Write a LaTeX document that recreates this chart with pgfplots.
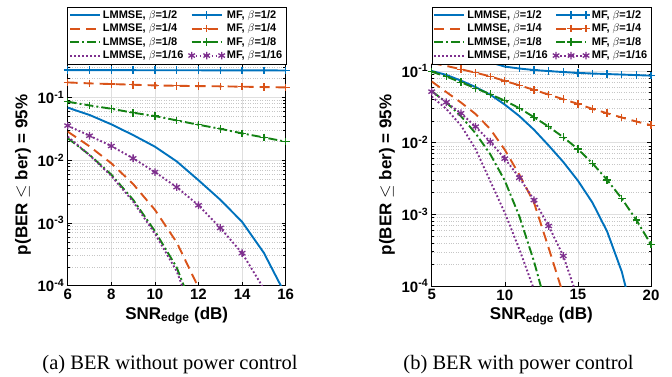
\documentclass[border=0pt]{standalone}
\usepackage{pgfplots}
\pgfplotsset{compat=1.18}
\usepackage{fontspec}
\setmainfont{Liberation Sans}
\newfontfamily\capfont{Liberation Serif}
\definecolor{mblue}{RGB}{0,114,189}
\definecolor{morange}{RGB}{217,83,25}
\definecolor{mgreen}{RGB}{20,130,20}
\definecolor{mpurple}{RGB}{126,47,142}
\tikzset{
  lmA/.style={mblue, line width=1.9pt, solid},
  lmB/.style={morange, line width=1.9pt, dash pattern=on 10pt off 6pt},
  lmC/.style={mgreen, line width=1.9pt, dash pattern=on 9pt off 3pt on 2pt off 3pt},
  lmD/.style={mpurple, line width=1.9pt, dash pattern=on 1.8pt off 2.2pt},
  mfA/.style={lmA, mark=+, mark size=3.8pt, mark options={solid, line width=1.3pt}},
  mfB/.style={lmB, mark=+, mark size=3.8pt, mark options={solid, line width=1.3pt}},
  mfC/.style={lmC, mark=+, mark size=3.8pt, mark options={solid, line width=1.3pt}},
  mfD/.style={lmD, mark=asterisk, mark size=3.8pt, mark options={solid, line width=1.3pt}},
}
\begin{document}
\begin{tikzpicture}
\useasboundingbox (0,0) rectangle (672pt,377pt);
\begin{axis}[at={(67.7pt,91.3pt)}, anchor=south west, width=218pt, height=221.7pt,
  xmin=6, xmax=16, ymax=0.34, xtick={6,8,10,12,14,16},
    scale only axis, ymode=log, ymin=1e-4,
    axis line style={line width=0.7pt},
    tick style={black, line width=0.6pt},
    major tick length=4pt, minor tick length=2.5pt,
    xmajorgrids, ymajorgrids, yminorgrids,
    major grid style={gray!25, line width=0.6pt},
    minor grid style={gray!45, dotted, line width=0.5pt},
    tick label style={font=\bfseries\fontsize{15}{15}\selectfont},
    label style={font=\bfseries\fontsize{17}{17}\selectfont},
    yticklabel={10\textsuperscript{\pgfmathparse{int(round(\tick/ln(10)))}\pgfmathresult}},
    xticklabel={\pgfmathparse{int(round(\tick))}\pgfmathresult},
    xlabel={SNR\textsubscript{edge} (dB)},
    ylabel={p(BER $\leq$ ber) = 95\%},
    legend columns=2,
    legend cell align=left,
    legend style={at={(0.5,1)}, anchor=south, draw=black, fill=white,
      font=\bfseries\fontsize{11}{12.5}\selectfont, inner sep=1.5pt,
      /tikz/every even column/.append style={column sep=3pt}},
    legend image code/.code={\draw[mark repeat=2,mark phase=2,#1] plot coordinates {(0pt,0pt) (15pt,0pt) (30pt,0pt)};},
]
\addplot[lmA] coordinates {(6,0.0686) (7,0.0525) (8,0.0372) (9,0.0251) (10,0.0164) (11,0.00955) (12,0.00479) (13,0.00234) (14,0.00104) (15,0.000333) (16,0.0000708)};
\addlegendentry{LMMSE, $\beta$=1/2}
\addplot[mfA] coordinates {(6,0.272) (7,0.272) (8,0.271) (9,0.271) (10,0.270) (11,0.270) (12,0.270) (13,0.269) (14,0.269) (15,0.269) (16,0.268)};
\addlegendentry{MF, $\beta$=1/2}
\addplot[lmB] coordinates {(6,0.0285) (7,0.0166) (8,0.00891) (9,0.00417) (10,0.00162) (11,0.00049) (12,0.0000933)};
\addlegendentry{LMMSE, $\beta$=1/4}
\addplot[mfB] coordinates {(6,0.173) (7,0.167) (8,0.163) (9,0.159) (10,0.155) (11,0.153) (12,0.151) (13,0.150) (14,0.148) (15,0.146) (16,0.144)};
\addlegendentry{MF, $\beta$=1/4}
\addplot[lmC] coordinates {(6,0.0224) (7,0.01216) (8,0.00589) (9,0.00234) (10,0.000741) (11,0.000195) (12,0.0000251)};
\addlegendentry{LMMSE, $\beta$=1/8}
\addplot[mfC] coordinates {(6,0.0852) (7,0.0745) (8,0.0659) (9,0.0569) (10,0.0504) (11,0.0430) (12,0.0366) (13,0.0316) (14,0.0267) (15,0.0230) (16,0.0197)};
\addlegendentry{MF, $\beta$=1/8}
\addplot[lmD] coordinates {(6,0.0237) (7,0.0120) (8,0.00562) (9,0.00219) (10,0.000676) (11,0.000170) (12,0.0000200)};
\addlegendentry{LMMSE, $\beta$=1/16}
\addplot[mfD, mark indices={1,...,9}] coordinates {(6,0.0355) (7,0.0245) (8,0.0168) (9,0.0107) (10,0.00646) (11,0.00372) (12,0.00191) (13,0.000832) (14,0.000331) (15,0.0000891)};
\addlegendentry{MF, $\beta$=1/16}
\end{axis}
\begin{axis}[at={(431.7pt,91pt)}, anchor=south west, width=219.3pt, height=222pt,
  xmin=5, xmax=20, ymax=0.125, xtick={5,10,15,20},
    scale only axis, ymode=log, ymin=1e-4,
    axis line style={line width=0.7pt},
    tick style={black, line width=0.6pt},
    major tick length=4pt, minor tick length=2.5pt,
    xmajorgrids, ymajorgrids, yminorgrids,
    major grid style={gray!25, line width=0.6pt},
    minor grid style={gray!45, dotted, line width=0.5pt},
    tick label style={font=\bfseries\fontsize{15}{15}\selectfont},
    label style={font=\bfseries\fontsize{17}{17}\selectfont},
    yticklabel={10\textsuperscript{\pgfmathparse{int(round(\tick/ln(10)))}\pgfmathresult}},
    xticklabel={\pgfmathparse{int(round(\tick))}\pgfmathresult},
    xlabel={SNR\textsubscript{edge} (dB)},
    ylabel={p(BER $\leq$ ber) = 95\%},
    legend columns=2,
    legend cell align=left,
    legend style={at={(0.5,1)}, anchor=south, draw=black, fill=white,
      font=\bfseries\fontsize{11}{12.5}\selectfont, inner sep=1.5pt,
      /tikz/every even column/.append style={column sep=3pt}},
    legend image code/.code={\draw[mark repeat=2,mark phase=2,#1] plot coordinates {(0pt,0pt) (15pt,0pt) (30pt,0pt)};},
]
\addplot[lmA] coordinates {(5,0.1) (6,0.0881) (7,0.0733) (8,0.0596) (9,0.0468) (10,0.0339) (11,0.0234) (12,0.0151) (13,0.00912) (14,0.00537) (15,0.00295) (16,0.00145) (17,0.000575) (18,0.0001585) (19,0.0000251)};
\addlegendentry{LMMSE, $\beta$=1/2}
\addplot[mfA, mark indices={2,...,12}] coordinates {(9,0.132) (10,0.115) (11,0.108) (12,0.103) (13,0.0995) (14,0.0965) (15,0.094) (16,0.092) (17,0.0905) (18,0.089) (19,0.0875) (20,0.086)};
\addlegendentry{MF, $\beta$=1/2}
\addplot[lmB] coordinates {(5,0.0713) (6,0.0507) (7,0.0363) (8,0.0251) (9,0.0155) (10,0.00794) (11,0.00355) (12,0.00145) (13,0.000339) (14,0.0000759)};
\addlegendentry{LMMSE, $\beta$=1/4}
\addplot[mfB, mark indices={2,...,16}] coordinates {(5,0.129) (6,0.1175) (7,0.1057) (8,0.0944) (9,0.0841) (10,0.0724) (11,0.0631) (12,0.0543) (13,0.0468) (14,0.0403) (15,0.0347) (16,0.0295) (17,0.0257) (18,0.0224) (19,0.0197) (20,0.0175)};
\addlegendentry{MF, $\beta$=1/4}
\addplot[lmC] coordinates {(5,0.0525) (6,0.0363) (7,0.0234) (8,0.0135) (9,0.00692) (10,0.00295) (11,0.000933) (12,0.000219) (13,0.0000398)};
\addlegendentry{LMMSE, $\beta$=1/8}
\addplot[mfC] coordinates {(5,0.0977) (6,0.0834) (7,0.0695) (8,0.0574) (9,0.0473) (10,0.0385) (11,0.0302) (12,0.0226) (13,0.0167) (14,0.0119) (15,0.00813) (16,0.00513) (17,0.00302) (18,0.00166) (19,0.000832) (20,0.00038)};
\addlegendentry{MF, $\beta$=1/8}
\addplot[lmD] coordinates {(5,0.0439) (6,0.0295) (7,0.0174) (8,0.00813) (9,0.00292) (10,0.00105) (11,0.000324) (12,0.0000891)};
\addlegendentry{LMMSE, $\beta$=1/16}
\addplot[mfD, mark indices={1,...,10}] coordinates {(5,0.0514) (6,0.0366) (7,0.0257) (8,0.0167) (9,0.0103) (10,0.00598) (11,0.00324) (12,0.00158) (13,0.000687) (14,0.000263) (15,0.0000661)};
\addlegendentry{MF, $\beta$=1/16}
\end{axis}
\node[anchor=base, font=\capfont\fontsize{20.5}{20.5}\selectfont] at (170pt,7pt) {(a) BER without power control};
\node[anchor=base, font=\capfont\fontsize{20.5}{20.5}\selectfont] at (518.5pt,7pt) {(b) BER with power control};
\end{tikzpicture}
\end{document}
